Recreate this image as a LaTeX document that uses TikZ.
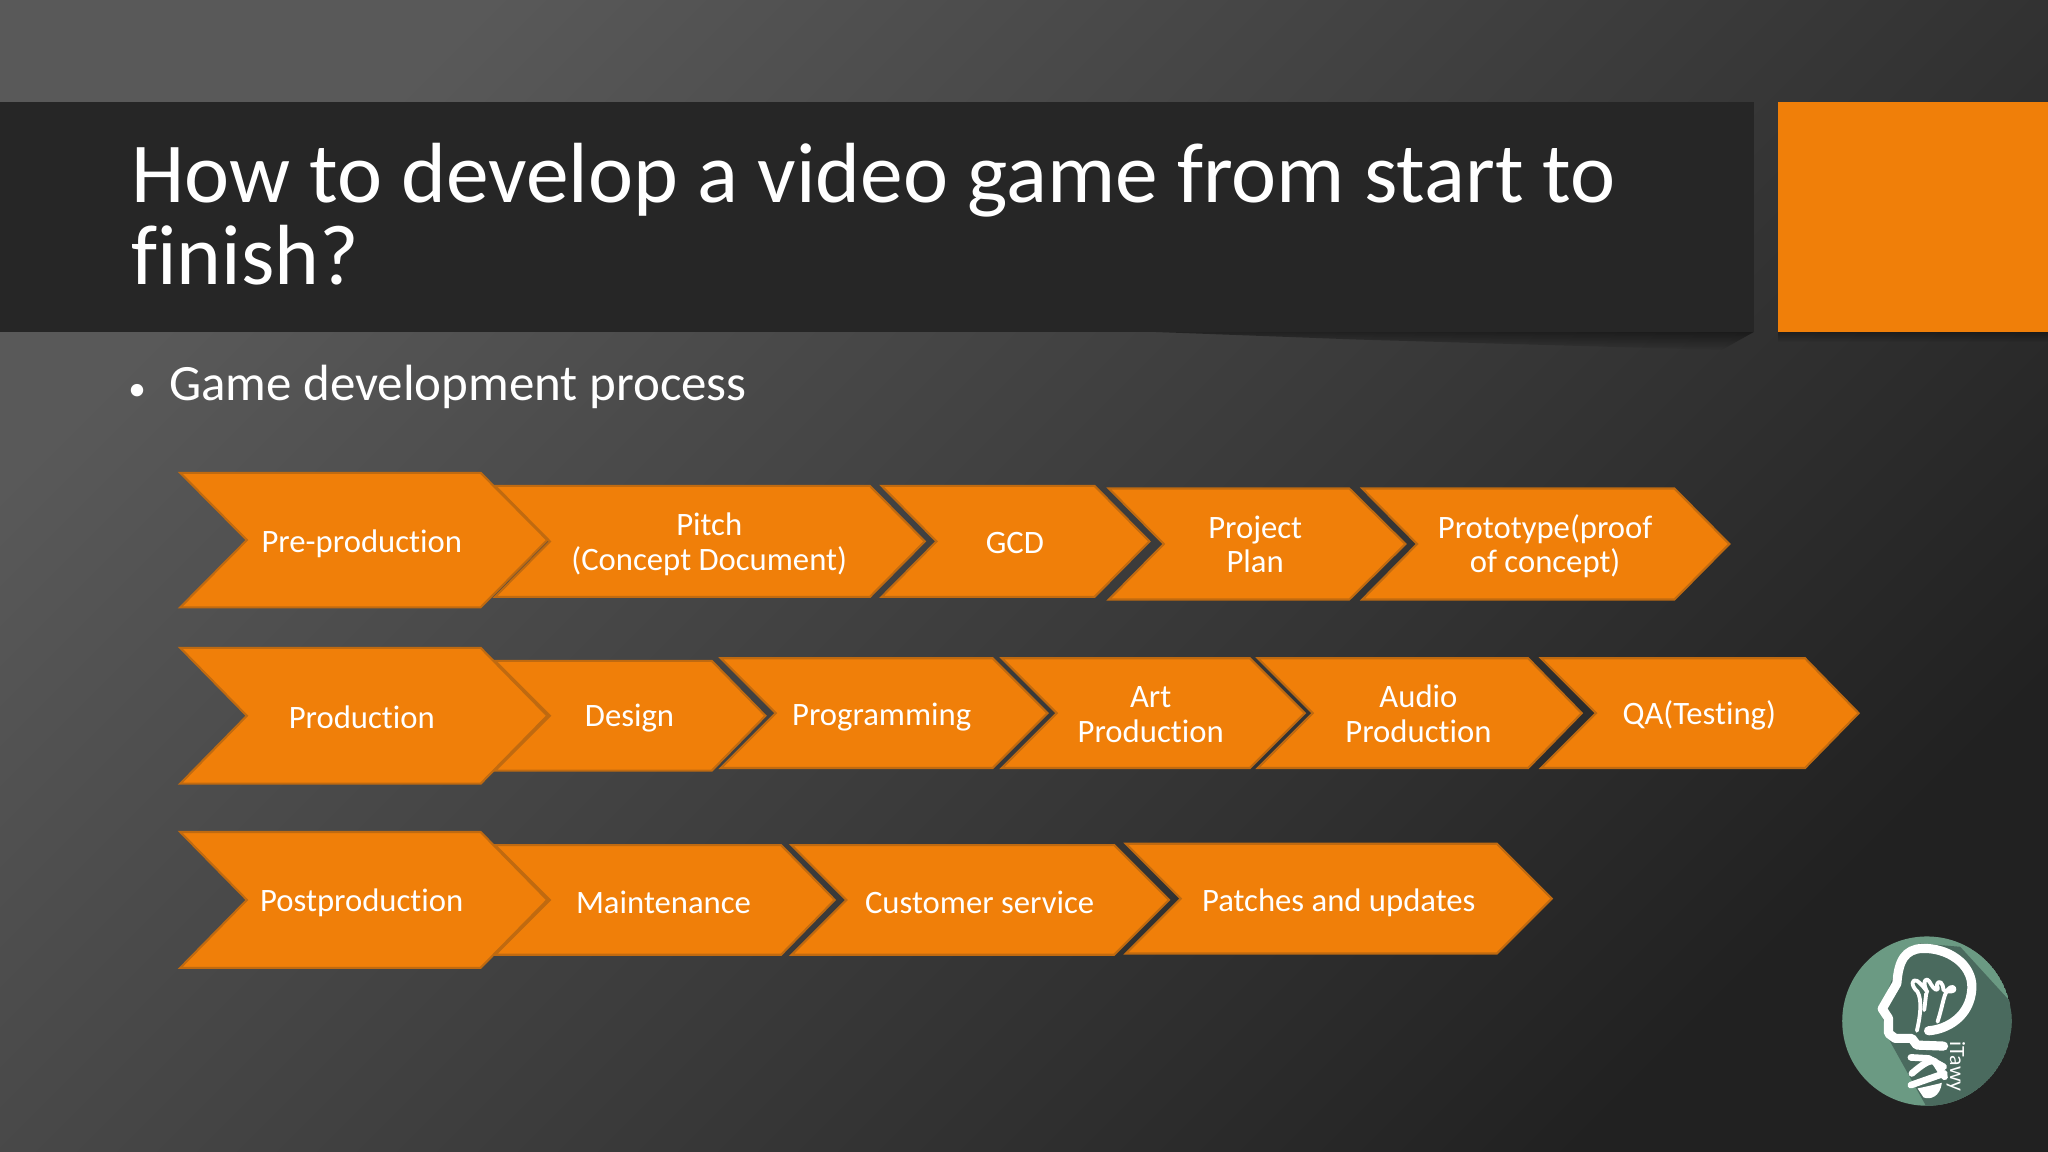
\documentclass[tikz,border=0pt]{standalone}
\usepackage{fontspec}
\setmainfont[RawFeature={-liga}]{Carlito}
\usetikzlibrary{fadings}
\definecolor{orangefill}{HTML}{F07F09}
\definecolor{orangeedge}{HTML}{C06A10}
\definecolor{barcol}{HTML}{262626}
\definecolor{logogreen}{HTML}{6B9A83}
\definecolor{logodark}{HTML}{4A6A5E}
\tikzset{
  chevshape/.style={fill=orangefill,draw=orangeedge,line width=0.6pt,line join=miter,miter limit=3},
  chevlabel/.style={text=white,align=center,inner sep=0pt,font=\fontsize{9.3}{9.9}\selectfont},
  logoline/.style={draw=white,line cap=round,line join=round,line width=2.6pt}
}
% name, left, notch, shoulder, tip, top, bottom, textx, texty, text
\newcommand{\chev}[9]{%
  \pgfmathsetmacro{\midy}{(#6+#7)/2}%
  \draw[chevshape] (#2,#6) -- (#4,#6) -- (#5,\midy) -- (#4,#7) -- (#2,#7) -- (#3,\midy) -- cycle;%
  \node[chevlabel] (#1) at (#8,#9) {\chevtext};%
}
\newcommand{\chevtext}{}
\begin{document}
\begin{tikzpicture}[x=0.01306cm,y=-0.01306cm]
\useasboundingbox (0,0) rectangle (1568,882);
\shade[top color=black!65,bottom color=black!87,shading angle=45] (0,0) rectangle (1568,882);
% bar shadow
\fill[black,opacity=0.45,path fading=south] (880,254) -- (1343,254) -- (1318,268) -- (1040,260) -- cycle;
\fill[black,opacity=0.35,path fading=south] (1361,254) rectangle (1568,262);
\fill[barcol] (0,78) rectangle (1343,254);
\fill[orangefill] (1361,78) rectangle (1568,254);
\node[anchor=base west,text=white,inner sep=0pt,font=\fontsize{24.3}{24.3}\selectfont] (title1) at (100,155) {How to develop a video game from start to};
\node[anchor=base west,text=white,inner sep=0pt,font=\fontsize{24.3}{24.3}\selectfont] (title2) at (100,218) {finish?};
\node[anchor=base,text=white,inner sep=0pt,font=\fontsize{10}{10}\selectfont] (bullet) at (105,307) {•};
\node[anchor=base west,text=white,inner sep=0pt,font=\fontsize{14.5}{14.5}\selectfont] (subhead) at (129,307) {Game development process};
% row 1
\renewcommand{\chevtext}{\strut Prototype(proof\\\strut of concept)}
\chev{c15}{1043}{1085}{1282}{1324}{374}{459}{1183}{420}
\renewcommand{\chevtext}{\strut Project\\\strut Plan}
\chev{c14}{849}{891}{1033}{1076}{374}{459}{961}{420}
\renewcommand{\chevtext}{GCD}
\chev{c13}{675}{717}{838}{880}{372}{457}{777}{416}
\renewcommand{\chevtext}{\strut Pitch\\\strut (Concept Document)}
\chev{c12}{379}{421}{666}{708}{372}{457}{543}{418}
\renewcommand{\chevtext}{Pre-production}
\chev{c11}{138}{189}{368}{419}{362}{465}{277}{416}
% row 2
\renewcommand{\chevtext}{QA(Testing)}
\chev{c26}{1180}{1222}{1382}{1423}{504}{588}{1301}{548}
\renewcommand{\chevtext}{\strut Audio\\\strut Production}
\chev{c25}{963}{1005}{1170}{1211}{504}{588}{1086}{550}
\renewcommand{\chevtext}{\strut Art\\\strut Production}
\chev{c24}{767}{809}{957}{999}{504}{588}{881}{550}
\renewcommand{\chevtext}{Programming}
\chev{c23}{552}{594}{760}{802}{504}{588}{675}{549}
\renewcommand{\chevtext}{Design}
\chev{c22}{379}{421}{545}{586}{506}{590}{482}{550}
\renewcommand{\chevtext}{Production}
\chev{c21}{138}{189}{368}{419}{496}{600}{277}{549}
% row 3
\renewcommand{\chevtext}{Patches and updates}
\chev{c34}{862}{904}{1146}{1188}{646}{730}{1025}{691}
\renewcommand{\chevtext}{Customer service}
\chev{c33}{606}{648}{853}{895}{647}{731}{750}{691}
\renewcommand{\chevtext}{Maintenance}
\chev{c32}{379}{421}{598}{639}{647}{731}{508}{691}
\renewcommand{\chevtext}{Postproduction}
\chev{c31}{138}{189}{368}{419}{637}{741}{277}{691}
% logo, in the pixels of a 3x crop at full size (1800,910)
\begin{scope}[shift={(1378.3,696.8)},x=0.01306cm/3*0.7657,y=-0.01306cm/3*0.7657]
\begin{scope}
\clip (380,333) circle (254);
\fill[logogreen] (380,333) circle (254);
\fill[logodark] (360,100) -- (480,110) -- (640,285) -- (660,620) -- (390,610) -- (270,395) -- (240,300) -- (290,170) -- cycle;
\end{scope}
\draw[logoline] (385,362) .. controls (440,358) and (510,320) .. (515,235) .. controls (518,160) and (440,112) .. (365,115) .. controls (315,118) and (295,150) .. (290,220) -- (246,296) -- (265,325) -- (265,370) -- (285,385) -- (335,385) -- (350,405) -- (430,408);
\begin{scope}[logoline/.append style={line width=1.1pt}]
\draw[logoline] (350,362) .. controls (362,310) and (365,270) .. (352,245) .. controls (330,225) and (335,205) .. (350,212) .. controls (370,225) and (390,260) .. (378,240) .. controls (365,210) and (380,200) .. (388,215) .. controls (400,240) and (420,250) .. (410,225) .. controls (415,205) and (430,220) .. (430,240) .. controls (470,255) and (470,225) .. (450,232) .. controls (430,245) and (430,280) .. (412,335);
\draw[logoline] (378,250) -- (372,300);
\end{scope}
\begin{scope}[logoline/.append style={line width=1.9pt}]
\draw[logoline] (332,442) -- (385,445) -- (430,470);
\draw[logoline] (335,490) .. controls (370,460) and (385,452) .. (402,452) -- (433,500);
\draw[logoline] (332,525) -- (432,490);
\end{scope}
\fill[white] (352,535) .. controls (385,528) and (420,520) .. (425,518) .. controls (420,560) and (390,570) .. (370,562) -- cycle;
\node[rotate=-90,text=white,inner sep=0pt,font=\fontsize{6.2}{6.2}\selectfont] (brand) at (467,470) {iTawy};
\end{scope}
\end{tikzpicture}
\end{document}
